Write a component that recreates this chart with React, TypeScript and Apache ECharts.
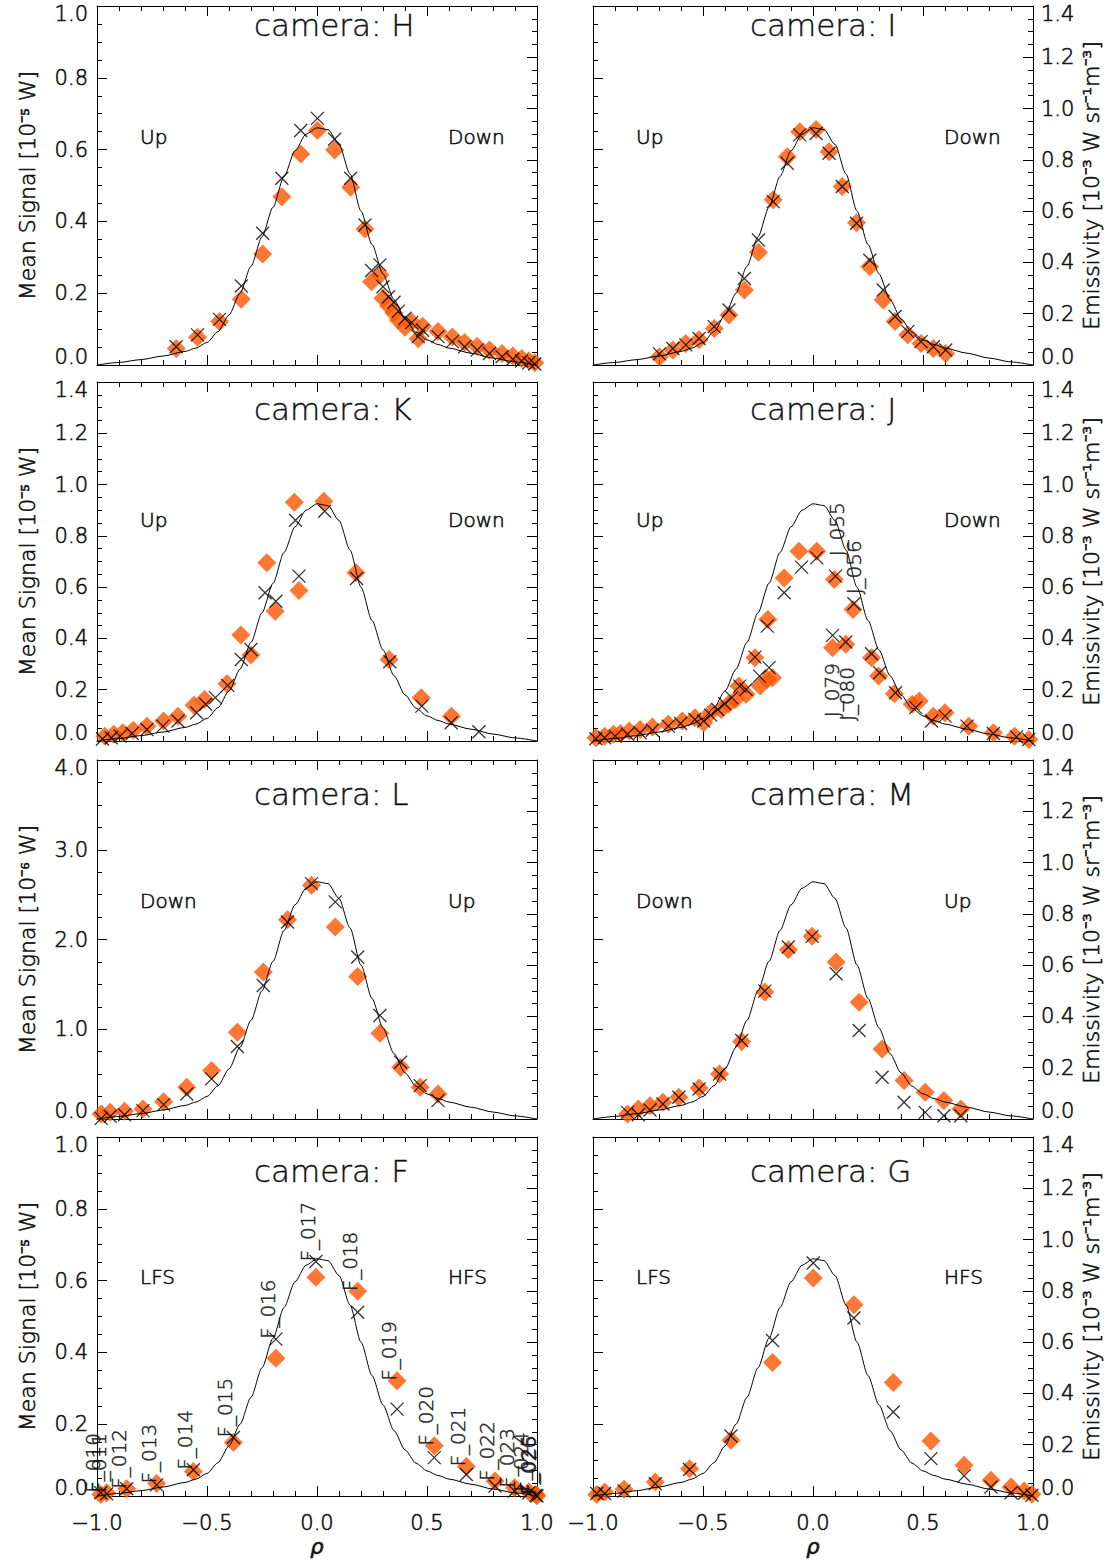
import React, { useEffect, useRef } from "react";
import * as echarts from "echarts";

// ---------- shared emissivity profile (right axis, 10^-3 W sr^-1 m^-3) ----------
const CURVE_RHO = [-1.0, -0.9, -0.8, -0.7, -0.6, -0.55, -0.5, -0.45, -0.4, -0.35, -0.3, -0.25, -0.2, -0.15, -0.1, -0.05, 0.0, 0.05, 0.1, 0.15, 0.2, 0.25, 0.3, 0.35, 0.4, 0.45, 0.5, 0.55, 0.6, 0.7, 0.8, 0.9, 1.0];
const EMISSIVITY = [0, 0.01, 0.021, 0.035, 0.053, 0.066, 0.088, 0.13, 0.195, 0.28, 0.385, 0.5, 0.615, 0.735, 0.835, 0.9, 0.925, 0.918, 0.86, 0.745, 0.6, 0.47, 0.355, 0.255, 0.18, 0.128, 0.098, 0.08, 0.066, 0.046, 0.027, 0.012, 0];

// ---------- camera H ----------
const H_RHO = [-0.64, -0.543, -0.443, -0.344, -0.247, -0.16, -0.074, 0.002, 0.08, 0.153, 0.218, 0.248, 0.286, 0.3, 0.325, 0.35, 0.37, 0.4, 0.43, 0.46, 0.48, 0.55, 0.615, 0.671, 0.728, 0.784, 0.841, 0.89, 0.93, 0.963, 0.99];
const H_DIAMOND = [0.046, 0.077, 0.121, 0.183, 0.309, 0.469, 0.588, 0.653, 0.599, 0.495, 0.379, 0.232, 0.251, 0.186, 0.165, 0.145, 0.125, 0.105, 0.12, 0.073, 0.108, 0.093, 0.078, 0.063, 0.052, 0.042, 0.032, 0.025, 0.018, 0.012, 0.006];
const H_CROSS = [0.051, 0.084, 0.127, 0.22, 0.367, 0.52, 0.653, 0.687, 0.629, 0.52, 0.39, 0.263, 0.279, 0.218, 0.19, 0.175, 0.15, 0.13, 0.118, 0.079, 0.097, 0.079, 0.065, 0.051, 0.042, 0.032, 0.023, 0.016, 0.011, 0.006, 0.003];

// ---------- camera I ----------
const I_RHO = [-0.698, -0.637, -0.578, -0.518, -0.449, -0.382, -0.312, -0.248, -0.181, -0.117, -0.06, 0.014, 0.073, 0.133, 0.198, 0.258, 0.319, 0.373, 0.431, 0.491, 0.547, 0.603];
const I_DIAMOND = [0.023, 0.042, 0.06, 0.07, 0.102, 0.139, 0.209, 0.314, 0.46, 0.58, 0.65, 0.656, 0.594, 0.497, 0.396, 0.274, 0.181, 0.121, 0.084, 0.06, 0.046, 0.032];
const I_CROSS = [0.031, 0.046, 0.056, 0.074, 0.107, 0.153, 0.241, 0.348, 0.455, 0.562, 0.641, 0.645, 0.59, 0.497, 0.395, 0.292, 0.209, 0.135, 0.093, 0.065, 0.051, 0.042];

// ---------- camera K ----------
const K_RHO_D = [-0.964, -0.924, -0.883, -0.835, -0.773, -0.697, -0.632, -0.559, -0.511, -0.409, -0.346, -0.3, -0.228, -0.19, -0.103, -0.082, 0.031, 0.177, 0.328, 0.474, 0.611];
const K_DIAMOND = [0.019, 0.026, 0.032, 0.042, 0.058, 0.078, 0.097, 0.139, 0.162, 0.223, 0.413, 0.335, 0.695, 0.506, 0.931, 0.587, 0.935, 0.656, 0.318, 0.169, 0.097];
const K_RHO_X = [-0.975, -0.935, -0.895, -0.84, -0.773, -0.7, -0.632, -0.547, -0.506, -0.462, -0.406, -0.344, -0.3, -0.236, -0.187, -0.098, -0.082, 0.035, 0.18, 0.331, 0.477, 0.61, 0.736];
const K_CROSS = [0.008, 0.013, 0.019, 0.029, 0.045, 0.058, 0.078, 0.11, 0.143, 0.169, 0.217, 0.318, 0.357, 0.578, 0.545, 0.861, 0.643, 0.896, 0.634, 0.309, 0.136, 0.071, 0.036];

// ---------- camera J ----------
const J_RHO_D = [-0.987, -0.947, -0.907, -0.875, -0.835, -0.786, -0.73, -0.658, -0.594, -0.537, -0.497, -0.465, -0.417, -0.385, -0.353, -0.337, -0.304, -0.264, -0.24, -0.208, -0.184, -0.205, -0.131, -0.064, 0.017, 0.097, 0.182, 0.089, 0.149, 0.266, 0.298, 0.37, 0.451, 0.483, 0.547, 0.6, 0.708, 0.82, 0.916, 0.981];
const J_DIAMOND = [0.013, 0.019, 0.026, 0.029, 0.039, 0.045, 0.055, 0.065, 0.078, 0.091, 0.071, 0.11, 0.123, 0.143, 0.162, 0.214, 0.182, 0.325, 0.214, 0.24, 0.247, 0.474, 0.636, 0.74, 0.74, 0.63, 0.513, 0.364, 0.377, 0.325, 0.253, 0.184, 0.143, 0.156, 0.097, 0.11, 0.058, 0.032, 0.019, 0.006];
const J_RHO_X = [-0.987, -0.947, -0.899, -0.843, -0.786, -0.73, -0.658, -0.602, -0.537, -0.497, -0.465, -0.433, -0.401, -0.369, -0.333, -0.304, -0.264, -0.243, -0.2, -0.208, -0.131, -0.052, 0.017, 0.102, 0.186, 0.089, 0.149, 0.266, 0.303, 0.375, 0.467, 0.539, 0.6, 0.7, 0.82, 0.925, 0.981];
const J_CROSS = [0.009, 0.013, 0.019, 0.026, 0.032, 0.042, 0.058, 0.068, 0.084, 0.078, 0.101, 0.123, 0.145, 0.169, 0.214, 0.201, 0.327, 0.253, 0.286, 0.448, 0.578, 0.678, 0.714, 0.643, 0.535, 0.412, 0.386, 0.34, 0.266, 0.188, 0.13, 0.078, 0.097, 0.058, 0.029, 0.016, 0.006];
const J_LABELS = ["J_055", "J_056", "J_079", "J_080"];
const J_LABEL_RHO = [0.107, 0.186, 0.085, 0.153];
const J_LABEL_AT = [0.72, 0.572, 0.093, 0.078];

// ---------- camera L ----------
const L_RHO = [-0.981, -0.94, -0.875, -0.791, -0.697, -0.592, -0.479, -0.362, -0.244, -0.134, -0.025, 0.083, 0.185, 0.286, 0.38, 0.469, 0.55];
const L_DIAMOND = [0.056, 0.074, 0.086, 0.112, 0.193, 0.353, 0.54, 0.967, 1.637, 2.221, 2.605, 2.14, 1.589, 0.956, 0.577, 0.353, 0.279];
const L_CROSS = [0.007, 0.03, 0.048, 0.093, 0.16, 0.279, 0.447, 0.807, 1.488, 2.195, 2.623, 2.419, 1.805, 1.154, 0.633, 0.372, 0.205];

// ---------- camera M ----------
const M_RHO = [-0.843, -0.794, -0.741, -0.682, -0.61, -0.518, -0.425, -0.324, -0.219, -0.112, -0.004, 0.105, 0.21, 0.314, 0.414, 0.51, 0.595, 0.672];
const M_DIAMOND = [0.056, 0.112, 0.149, 0.186, 0.242, 0.346, 0.502, 0.863, 1.414, 1.887, 2.035, 1.749, 1.302, 0.781, 0.428, 0.298, 0.205, 0.112];
const M_CROSS = [0.074, 0.048, 0.1, 0.167, 0.242, 0.335, 0.502, 0.874, 1.425, 1.916, 2.035, 1.619, 0.986, 0.465, 0.186, 0.074, 0.037, 0.037];

// ---------- camera F ----------
const F_CHANNELS = ["F_010", "F_011", "F_012", "F_013", "F_014", "F_015", "F_016", "F_017", "F_018", "F_019", "F_020", "F_021", "F_022", "F_023", "F_024", "F_025", "F_026"];
const F_RHO = [-0.983, -0.956, -0.865, -0.729, -0.562, -0.38, -0.187, -0.005, 0.185, 0.364, 0.533, 0.679, 0.809, 0.898, 0.963, 0.995, 1.0];
const F_DIAMOND = [0.004, 0.009, 0.02, 0.035, 0.068, 0.149, 0.384, 0.609, 0.57, 0.321, 0.14, 0.082, 0.042, 0.023, 0.012, 0.004, 0.001];
const F_CROSS = [0.009, 0.006, 0.02, 0.031, 0.073, 0.163, 0.437, 0.653, 0.512, 0.242, 0.107, 0.06, 0.028, 0.014, 0.009, 0.002, 0.0];

// ---------- camera G ----------
const G_RHO = [-0.983, -0.947, -0.859, -0.717, -0.561, -0.373, -0.184, 0.001, 0.186, 0.365, 0.536, 0.687, 0.809, 0.9, 0.96, 0.995];
const G_DIAMOND = [0.004, 0.011, 0.019, 0.039, 0.076, 0.155, 0.372, 0.607, 0.533, 0.316, 0.153, 0.086, 0.044, 0.025, 0.014, 0.005];
const G_CROSS = [0.007, 0.007, 0.014, 0.034, 0.074, 0.167, 0.433, 0.649, 0.496, 0.234, 0.104, 0.056, 0.025, 0.009, 0.007, 0.002];

// ---------- axis ticks ----------
const X_TICKS = [-1.0, -0.5, 0.0, 0.5, 1.0];

// ---------- styling ----------
const FONT = "DejaVu Sans";
const WEIGHT = 200;
const TEXT = "#111";
const STROKE = 0.6;
const ORANGE = "#ff5500";
const CROSS_PATH = "path://M0,0L10,10M10,0L0,10";
const COL_LEFT = [97, 593];
const ROW_TOP = [6, 382, 760, 1137];
const PLOT_W = 440;
const PLOT_H = 359;
const TITLE_Y = [25, 409, 794, 1171];
const TAG_Y = [137, 520, 901, 1277];

type Panel = {
  camera: string;
  row: number;
  col: number;
  yMax: number;
  yStep: number;
  exp: string;
  tags: [string, string];
  rhoD: number[];
  d: number[];
  rhoX: number[];
  x: number[];
};

const PANELS: Panel[] = [
  { camera: "H", row: 0, col: 0, yMax: 1.0, yStep: 0.2, exp: "⁻⁵", tags: ["Up", "Down"], rhoD: H_RHO, d: H_DIAMOND, rhoX: H_RHO, x: H_CROSS },
  { camera: "I", row: 0, col: 1, yMax: 1.0, yStep: 0.2, exp: "⁻⁵", tags: ["Up", "Down"], rhoD: I_RHO, d: I_DIAMOND, rhoX: I_RHO, x: I_CROSS },
  { camera: "K", row: 1, col: 0, yMax: 1.4, yStep: 0.2, exp: "⁻⁵", tags: ["Up", "Down"], rhoD: K_RHO_D, d: K_DIAMOND, rhoX: K_RHO_X, x: K_CROSS },
  { camera: "J", row: 1, col: 1, yMax: 1.4, yStep: 0.2, exp: "⁻⁵", tags: ["Up", "Down"], rhoD: J_RHO_D, d: J_DIAMOND, rhoX: J_RHO_X, x: J_CROSS },
  { camera: "L", row: 2, col: 0, yMax: 4.0, yStep: 1.0, exp: "⁻⁶", tags: ["Down", "Up"], rhoD: L_RHO, d: L_DIAMOND, rhoX: L_RHO, x: L_CROSS },
  { camera: "M", row: 2, col: 1, yMax: 4.0, yStep: 1.0, exp: "⁻⁶", tags: ["Down", "Up"], rhoD: M_RHO, d: M_DIAMOND, rhoX: M_RHO, x: M_CROSS },
  { camera: "F", row: 3, col: 0, yMax: 1.0, yStep: 0.2, exp: "⁻⁵", tags: ["LFS", "HFS"], rhoD: F_RHO, d: F_DIAMOND, rhoX: F_RHO, x: F_CROSS },
  { camera: "G", row: 3, col: 1, yMax: 1.0, yStep: 0.2, exp: "⁻⁵", tags: ["LFS", "HFS"], rhoD: G_RHO, d: G_DIAMOND, rhoX: G_RHO, x: G_CROSS },
];

const zip = (xs: number[], ys: number[]) => xs.map((v, i) => [v, ys[i]]);

const lineStyle = { color: "#000", width: 1 };
const TICK_FONT = 21;
const textBase = {
  fontFamily: FONT,
  fontWeight: WEIGHT,
  color: TEXT,
  textBorderColor: TEXT,
  textBorderWidth: STROKE,
};
const richLabels = {
  hi: { ...textBase, fontSize: TICK_FONT, padding: [16, 0, 0, 0] },
  lo: { ...textBase, fontSize: TICK_FONT, padding: [0, 0, 16, 0] },
};
const yFormatter = (max: number) => (v: number) => {
  const s = v.toFixed(1);
  if (Math.abs(v - max) < 1e-9) return `{hi|${s}}`;
  if (Math.abs(v) < 1e-9) return `{lo|${s}}`;
  return s;
};
const xFormatter = (v: number) => (v < 0 ? "−" : "") + Math.abs(v).toFixed(1);

function buildOption() {
  const grid: any[] = [];
  const xAxis: any[] = [];
  const yAxis: any[] = [];
  const series: any[] = [];
  const graphic: any[] = [];

  PANELS.forEach((p, i) => {
    const left = COL_LEFT[p.col];
    const top = ROW_TOP[p.row];
    grid.push({ left, top, width: PLOT_W, height: PLOT_H, containLabel: false });

    const xBase = {
      type: "value",
      gridIndex: i,
      min: X_TICKS[0],
      max: X_TICKS[X_TICKS.length - 1],
      interval: 0.5,
      axisLine: { show: true, onZero: false, lineStyle },
      axisTick: { show: true, inside: true, length: 10, lineStyle },
      minorTick: { show: true, splitNumber: 5, length: 5, lineStyle },
      splitLine: { show: false },
      minorSplitLine: { show: false },
    };
    const bottomRow = p.row === 3;
    xAxis.push({
      ...xBase,
      position: "bottom",
      axisLabel: {
        ...textBase,
        show: bottomRow,
        margin: 16,
        formatter: xFormatter,
        fontSize: TICK_FONT,
        showMinLabel: true,
        showMaxLabel: true,
      },
      name: bottomRow ? "ρ" : "",
      nameLocation: "middle",
      nameGap: 40,
      nameTextStyle: { ...textBase, fontSize: 21, fontStyle: "italic" },
    });
    xAxis.push({ ...xBase, position: "top", axisLabel: { show: false } });

    const yBase = {
      type: "value",
      gridIndex: i,
      min: 0,
      axisLine: { show: true, onZero: false, lineStyle },
      axisTick: { show: true, inside: true, length: 10, lineStyle },
      minorTick: { show: true, splitNumber: 4, length: 5, lineStyle },
      splitLine: { show: false },
      minorSplitLine: { show: false },
      nameLocation: "middle",
      nameRotate: 90,
      nameTextStyle: { ...textBase, fontSize: 22 },
    };
    yAxis.push({
      ...yBase,
      position: "left",
      max: p.yMax,
      interval: p.yStep,
      axisLabel: {
        ...textBase,
        show: p.col === 0,
        margin: 9,
        formatter: yFormatter(p.yMax),
        fontSize: TICK_FONT,
        rich: richLabels,
        showMinLabel: true,
        showMaxLabel: true,
      },
      name: p.col === 0 ? `Mean Signal [10${p.exp} W]` : "",
      nameGap: 59,
    });
    yAxis.push({
      ...yBase,
      position: "right",
      max: 1.4,
      interval: 0.2,
      axisLabel: {
        ...textBase,
        show: p.col === 1,
        margin: 8,
        formatter: yFormatter(1.4),
        fontSize: TICK_FONT,
        rich: richLabels,
        showMinLabel: true,
        showMaxLabel: true,
      },
      name: p.col === 1 ? "Emissivity [10⁻³ W sr⁻¹m⁻³]" : "",
      nameGap: 47,
    });

    series.push({
      type: "scatter",
      xAxisIndex: 2 * i,
      yAxisIndex: 2 * i,
      symbol: "diamond",
      symbolSize: 19,
      itemStyle: { color: ORANGE },
      data: zip(p.rhoD, p.d),
      silent: true,
      clip: false,
      z: 2,
    });
    series.push({
      type: "line",
      xAxisIndex: 2 * i,
      yAxisIndex: 2 * i + 1,
      data: zip(CURVE_RHO, EMISSIVITY),
      symbol: "none",
      showSymbol: false,
      smooth: 0.25,
      smoothMonotone: "x",
      lineStyle: { color: "#000", width: 1 },
      silent: true,
      z: 3,
    });
    series.push({
      type: "scatter",
      xAxisIndex: 2 * i,
      yAxisIndex: 2 * i,
      symbol: CROSS_PATH,
      symbolSize: 13,
      itemStyle: { color: "rgba(0,0,0,0)", borderColor: "#000", borderWidth: 1.3 },
      data: zip(p.rhoX, p.x),
      silent: true,
      clip: false,
      z: 4,
    });

    const gText = (text: string, x: number, y: number, size: number, stroke: number) => ({
      type: "text",
      x,
      y,
      silent: true,
      style: {
        text,
        fontFamily: FONT,
        fontWeight: WEIGHT,
        fontSize: size,
        fill: TEXT,
        stroke: TEXT,
        lineWidth: stroke,
        align: "left",
        verticalAlign: "middle",
      },
    });
    graphic.push(gText(`camera: ${p.camera}`, left + 157, TITLE_Y[p.row], 31, 0.4));
    graphic.push(gText(p.tags[0], left + 43, TAG_Y[p.row], 20, STROKE));
    graphic.push(gText(p.tags[1], left + 351, TAG_Y[p.row], 20, STROKE));
  });

  const labelSeries = (i: number, names: string[], rho: number[], at: number[], lift: number) => ({
    type: "scatter",
    xAxisIndex: 2 * i,
    yAxisIndex: 2 * i,
    symbol: "circle",
    symbolSize: 1,
    itemStyle: { color: "rgba(0,0,0,0)" },
    silent: true,
    clip: false,
    z: 5,
    data: names.map((n, k) => ({ name: n, value: [rho[k], at[k]] })),
    label: {
      ...textBase,
      show: true,
      formatter: "{b}",
      position: "inside",
      offset: [0, -lift],
      rotate: 90,
      align: "left",
      verticalAlign: "middle",
      fontSize: 20,
      textShadowBlur: 0,
    },
  });

  const fIndex = PANELS.findIndex((p) => p.camera === "F");
  const jIndex = PANELS.findIndex((p) => p.camera === "J");
  series.push(labelSeries(fIndex, F_CHANNELS, F_RHO, F_RHO.map((_, k) => Math.max(F_DIAMOND[k], F_CROSS[k])), 8));
  series.push(labelSeries(jIndex, J_LABELS, J_LABEL_RHO, J_LABEL_AT, 0));

  return {
    animation: false,
    backgroundColor: "#fff",
    grid,
    xAxis,
    yAxis,
    series,
    graphic,
  };
}

export default function App() {
  const ref = useRef<HTMLDivElement>(null);
  useEffect(() => {
    document.body.style.margin = "0";
    const chart = echarts.init(ref.current as HTMLDivElement, null, { renderer: "svg" });
    chart.setOption(buildOption() as any);
    return () => {
      chart.dispose();
    };
  }, []);
  return <div ref={ref} style={{ width: 1110, height: 1566 }} />;
}
